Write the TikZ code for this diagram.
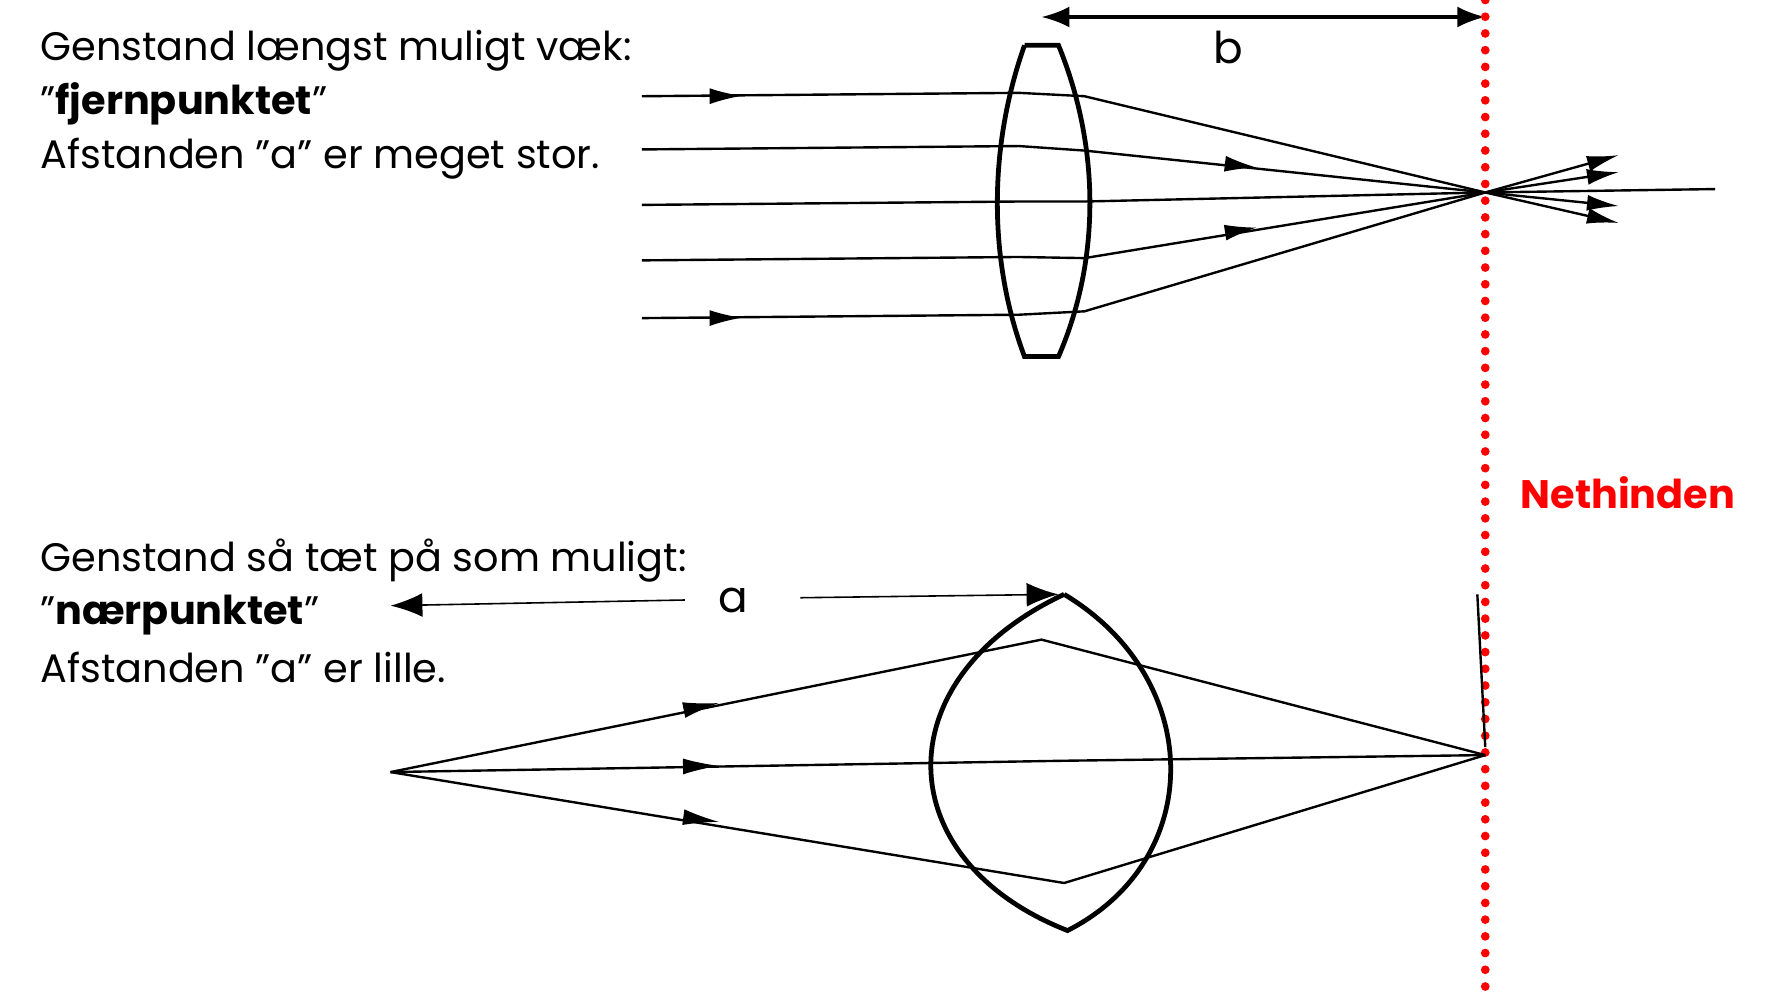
\documentclass[tikz,border=0pt]{standalone}
\usepackage{fontspec}
\setmainfont{Poppins}
\usetikzlibrary{arrows.meta}
\begin{document}
\begin{tikzpicture}[x=0.01cm,y=-0.01cm]
\tikzstyle{ray}=[draw, semithick];
\tikzstyle{lens}=[draw, very thick];
\tikzstyle{label}=[font=\fontsize{10}{12}\selectfont, anchor=west, inner sep=0pt];
\useasboundingbox (0,0) rectangle (1560,878);
% top: far point
\coordinate (focus) at (1312,170);
\path (905,40) -- (935,40) .. controls (972,130) and (972,230) .. (935,315) -- (905,315) .. controls (873,230) and (873,130) .. (905,40) [lens];
\foreach \yin/\yout in {85/85,132/133,181/178,230/228,281/275}
  \path (567,\yin) -- (900,\yin-3) -- (958,\yout) -- (focus) [ray];
\foreach \y in {85,281}
  \path (620,\y) -- (655,\y-0.3) [draw, -{Latex[length=8pt,width=4pt]}];
\path (1085,145) -- (1110,148) [draw, -{Latex[length=8pt,width=4pt]}];
\path (1085,205) -- (1110,201) [draw, -{Latex[length=8pt,width=4pt]}];
\foreach \y in {137,152,182,197}
  \path (focus) -- (1430,\y) [draw, semithick, -{Latex[length=8pt,width=4pt]}];
\path (focus) -- (1515,167) [draw, semithick];
% b distance
\coordinate (b_left) at (920,15);
\coordinate (b_right) at (1312,15);
\path (b_left) -- (b_right) [draw, thick, {Latex[length=7pt]}-{Latex[length=7pt]}];
\node (b_label) at (1085,42) [font=\fontsize{11}{13}\selectfont] {b};
% retina
\path (1312,0) -- (1312,878) [draw, red, line width=2.2pt, dash pattern=on 0pt off 4.2pt, line cap=round];
\node (retina_label) at (1438,435) [font=\fontsize{10}{12}\selectfont\bfseries, text=red] {Nethinden};
% texts
\node (far_1) at (35,45) [label] {Genstand længst muligt væk:};
\node (far_2) at (35,92) [label] {"\textbf{fjernpunktet}"};
\node (far_3) at (35,140) [label] {Afstanden "a" er meget stor.};
\node (near_1) at (35,495) [label] {Genstand så tæt på som muligt:};
\node (near_2) at (35,543) [label] {"\textbf{nærpunktet}"};
\node (near_3) at (35,590) [label] {Afstanden "a" er lille.};
% bottom: near point
\coordinate (object) at (345,682);
\coordinate (image) at (1312,667);
\path (940,525) .. controls (1065,600) and (1065,760) .. (943,822) .. controls (785,760) and (780,600) .. (940,525) [lens];
\path (object) -- (920,565) -- (image) [ray];
\path (object) -- (940,672) -- (image) [ray];
\path (object) -- (940,780) -- (image) [ray];
\path (605,627) -- (635,621) [draw, -{Latex[length=9pt,width=4pt]}];
\path (605,677) -- (635,676.5) [draw, -{Latex[length=9pt,width=4pt]}];
\path (605,722) -- (635,726) [draw, -{Latex[length=9pt,width=4pt]}];
\path (1305,525) -- (1312,660) [draw, semithick];
% a distance
\node (a_label) at (648,530) [font=\fontsize{11}{13}\selectfont] {a};
\path (605,530) -- (345,535) [draw, -{Latex[length=8pt]}];
\path (707,528) -- (935,525) [draw, -{Latex[length=8pt]}];
\end{tikzpicture}
\end{document}
